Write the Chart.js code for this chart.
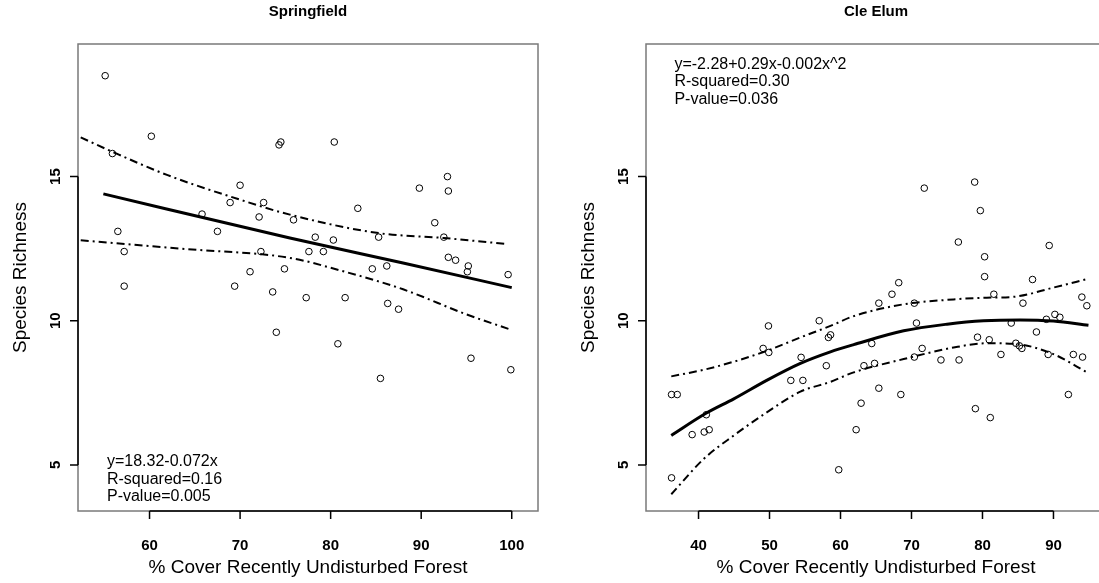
<!DOCTYPE html>
<html>
<head>
<meta charset="utf-8">
<script src="https://cdn.jsdelivr.net/npm/chart.js@4.4.0/dist/chart.umd.min.js"></script>
<style>
    html, body { margin: 0; padding: 0; background: #fff; overflow: hidden; }
    #wrap { position: relative; width: 1099px; height: 583px; overflow: hidden; background: #fff; }
    .panel { position: absolute; top: 0; }
</style>
</head>
<body>
<div id="wrap">
    <canvas id="leftChart" class="panel" width="550" height="583" style="left:0"></canvas>
    <canvas id="rightChart" class="panel" width="570" height="583" style="left:550px"></canvas>
</div>
<script>
// Springfield - observed points
const springX = [55.1, 55.9, 56.5, 57.2, 57.2, 60.2, 65.8, 67.5, 68.9, 69.4, 70.0, 71.1, 72.1, 72.3, 72.6, 73.6,
    74.0, 74.3, 74.5, 74.9, 75.9, 77.3, 77.6, 78.3, 79.2, 80.3, 80.4, 80.8, 81.6, 83.0, 84.6, 85.3, 85.5, 86.2,
    86.3, 87.5, 89.8, 91.5, 92.5, 92.9, 93.0, 93.0, 93.8, 95.1, 95.2, 95.5, 99.6, 99.9];
const springY = [18.5, 15.8, 13.1, 12.4, 11.2, 16.4, 13.7, 13.1, 14.1, 11.2, 14.7, 11.7, 13.6, 12.4, 14.1, 11.0,
    9.6, 16.1, 16.2, 11.8, 13.5, 10.8, 12.4, 12.9, 12.4, 12.8, 16.2, 9.2, 10.8, 13.9, 11.8, 12.9, 8.0, 11.9,
    10.6, 10.4, 14.6, 13.4, 12.9, 15.0, 14.5, 12.2, 12.1, 11.7, 11.9, 8.7, 11.6, 8.3];

// Springfield - fitted line and confidence band
const springFitX = [54.9, 75.5, 88, 100];
const springFitY = [14.4, 12.87, 12.0, 11.15];
const springUpX = [52.4, 55.9, 62, 68.9, 75.5, 85.3, 92.5, 99.5];
const springUpY = [16.36, 15.86, 15.05, 14.31, 13.68, 13.04, 12.87, 12.66];
const springLoX = [52.4, 63.9, 75.5, 81, 88, 95, 100];
const springLoY = [12.79, 12.49, 12.18, 11.75, 11.09, 10.22, 9.68];

// Cle Elum - observed points
const cleX = [36.2, 37.0, 36.2, 39.1, 40.8, 41.1, 41.5, 49.1, 49.85, 49.9, 53.0, 54.45, 54.7, 57.0, 58.0, 58.3,
    58.6, 59.75, 62.2, 62.9, 63.3, 64.4, 64.8, 65.4, 65.4, 67.25, 68.2, 68.5, 70.4, 70.4, 70.7, 71.5, 71.8, 74.15,
    76.6, 76.7, 78.9, 79.0, 79.3, 79.7, 80.3, 80.3, 80.95, 81.1, 81.6, 82.6, 84.05, 84.7, 85.2, 85.55, 85.7,
    87.05, 87.6, 89.0, 89.25, 89.4, 90.2, 90.9, 92.1, 92.8, 94.0, 94.1, 94.7];
const cleY = [7.44, 7.44, 4.55, 6.05, 6.14, 6.74, 6.22, 9.04, 9.82, 8.9, 7.93, 8.73, 7.93, 10.0, 8.44, 9.42,
    9.51, 4.83, 6.22, 7.14, 8.44, 9.21, 8.52, 10.61, 7.66, 10.92, 11.32, 7.44, 10.61, 8.74, 9.92, 9.04, 14.6, 8.64,
    12.73, 8.64, 14.81, 6.95, 9.43, 13.82, 12.22, 11.53, 9.34, 6.64, 10.92, 8.83, 9.92, 9.22, 9.13, 9.04, 10.61,
    11.43, 9.61, 10.05, 8.83, 12.61, 10.22, 10.12, 7.44, 8.83, 10.82, 8.74, 10.52];

// Cle Elum - quadratic fit and confidence band
const cleFitX = [36.16, 40.99, 44.97, 49.67, 54.35, 58.58, 61.86, 68.9, 75.0, 80.15, 85.3, 90, 94.93];
const cleFitY = [6.02, 6.78, 7.29, 7.94, 8.52, 8.92, 9.17, 9.65, 9.88, 10.0, 10.03, 9.99, 9.84];
const cleUpX = [36.16, 40.75, 44.97, 49.67, 54.35, 58.58, 61.86, 68.9, 75.93, 80.6, 84.4, 90, 94.93];
const cleUpY = [8.07, 8.30, 8.58, 8.96, 9.42, 9.82, 10.16, 10.57, 10.74, 10.8, 10.83, 11.15, 11.46];
const cleLoX = [36.16, 40.75, 44.97, 49.67, 54.35, 58.58, 61.86, 68.9, 75.93, 80.6, 84.85, 90, 94.93];
const cleLoY = [3.98, 5.21, 6.02, 6.83, 7.54, 7.88, 8.21, 8.67, 9.07, 9.22, 9.19, 8.84, 8.18];

// ticks
const springXTicks = [60, 70, 80, 90, 100];
const cleXTicks = [40, 50, 60, 70, 80, 90];
const yTicks = [5, 10, 15];

const FONT = '"Liberation Sans", Arial, Helvetica, sans-serif';
const X_TITLE = '% Cover Recently Undisturbed Forest';
const Y_TITLE = 'Species Richness';

const pts = (xs, ys) => xs.map((x, i) => ({ x, y: ys[i] }));

// R-style box, axes, labels, drawn from the chart's own scales
const rFrame = {
    id: 'rFrame',
    afterDatasetsDraw(chart, args, o) {
        const { ctx, chartArea: a, scales: { x, y } } = chart;
        const midX = (a.left + a.right) / 2;
        const midY = (a.top + a.bottom) / 2;
        ctx.save();

        ctx.lineWidth = 1.5;
        ctx.strokeStyle = '#7a7a7a';
        ctx.strokeRect(a.left, a.top, a.right - a.left, a.bottom - a.top);

        const xs = o.xTicks.map(v => x.getPixelForValue(v));
        const ys = o.yTicks.map(v => y.getPixelForValue(v));
        ctx.strokeStyle = '#000';
        ctx.beginPath();
        ctx.moveTo(xs[0], a.bottom);
        ctx.lineTo(xs[xs.length - 1], a.bottom);
        xs.forEach(px => { ctx.moveTo(px, a.bottom); ctx.lineTo(px, a.bottom + 8); });
        ctx.moveTo(a.left, ys[0]);
        ctx.lineTo(a.left, ys[ys.length - 1]);
        ys.forEach(py => { ctx.moveTo(a.left, py); ctx.lineTo(a.left - 8, py); });
        ctx.stroke();

        ctx.fillStyle = '#000';
        ctx.textAlign = 'center';
        ctx.textBaseline = 'middle';
        ctx.font = `bold 15px ${FONT}`;
        o.xTicks.forEach((v, i) => ctx.fillText(String(v), xs[i], a.bottom + 35));
        o.yTicks.forEach((v, i) => {
            ctx.save();
            ctx.translate(a.left - 22, ys[i]);
            ctx.rotate(-Math.PI / 2);
            ctx.fillText(String(v), 0, 0);
            ctx.restore();
        });

        // main title
        ctx.font = `bold 15px ${FONT}`;
        ctx.fillText(o.title, midX, 12);

        // axis titles
        ctx.font = `19px ${FONT}`;
        ctx.fillText(X_TITLE, midX, a.bottom + 57);
        ctx.save();
        ctx.translate(a.left - 57, midY);
        ctx.rotate(-Math.PI / 2);
        ctx.fillText(Y_TITLE, 0, 0);
        ctx.restore();

        // fit statistics
        ctx.font = `16px ${FONT}`;
        ctx.textAlign = 'left';
        const nx = x.getPixelForValue(o.noteX);
        o.notes.forEach((t, i) => ctx.fillText(t, nx, y.getPixelForValue(o.noteY[i])));

        ctx.restore();
    }
};

function makePanel(id, cfg) {
    const bandStyle = {
        type: 'line', borderColor: '#000', borderWidth: 2, borderDash: [8, 4, 2, 4],
        pointRadius: 0, fill: false, cubicInterpolationMode: 'monotone'
    };
    return new Chart(document.getElementById(id), {
        data: {
            datasets: [
                { ...bandStyle, data: pts(cfg.upX, cfg.upY) },
                { ...bandStyle, data: pts(cfg.loX, cfg.loY) },
                {
                    type: 'line', data: pts(cfg.fitX, cfg.fitY), borderColor: '#000', borderWidth: 3,
                    pointRadius: 0, fill: false, cubicInterpolationMode: 'monotone'
                },
                {
                    type: 'scatter', data: pts(cfg.px, cfg.py), pointStyle: 'circle', pointRadius: 3.3,
                    borderWidth: 1, borderColor: '#000', backgroundColor: 'rgba(0,0,0,0)'
                }
            ]
        },
        options: {
            responsive: false,
            animation: false,
            devicePixelRatio: 1,
            events: [],
            layout: { padding: cfg.padding },
            scales: {
                x: {
                    type: 'linear', min: cfg.xMin, max: cfg.xMax,
                    grid: { display: false }, border: { display: false }, ticks: { display: false },
                    afterFit: s => { s.height = 0; }
                },
                y: {
                    type: 'linear', min: 3.4, max: 19.6,
                    grid: { display: false }, border: { display: false }, ticks: { display: false },
                    afterFit: s => { s.width = 0; }
                }
            },
            plugins: {
                legend: { display: false },
                tooltip: { enabled: false },
                rFrame: {
                    title: cfg.title, xTicks: cfg.xTicks, yTicks: yTicks,
                    notes: cfg.notes, noteX: cfg.noteX, noteY: cfg.noteY
                }
            }
        },
        plugins: [rFrame]
    });
}

makePanel('leftChart', {
    title: 'Springfield',
    px: springX, py: springY,
    fitX: springFitX, fitY: springFitY,
    upX: springUpX, upY: springUpY, loX: springLoX, loY: springLoY,
    xMin: 52.1, xMax: 102.9, xTicks: springXTicks,
    padding: { left: 78, right: 12, top: 44, bottom: 72 },
    notes: ['y=18.32-0.072x', 'R-squared=0.16', 'P-value=0.005'],
    noteX: 55.3, noteY: [5.1, 4.5, 3.9]
});

makePanel('rightChart', {
    title: 'Cle Elum',
    px: cleX, py: cleY,
    fitX: cleFitX, fitY: cleFitY,
    upX: cleUpX, upY: cleUpY, loX: cleLoX, loY: cleLoY,
    xMin: 32.6, xMax: 97.4, xTicks: cleXTicks,
    padding: { left: 96, right: 14, top: 44, bottom: 72 },
    notes: ['y=-2.28+0.29x-0.002x^2', 'R-squared=0.30', 'P-value=0.036'],
    noteX: 36.6, noteY: [18.88, 18.28, 17.66]
});
</script>
</body>
</html>
